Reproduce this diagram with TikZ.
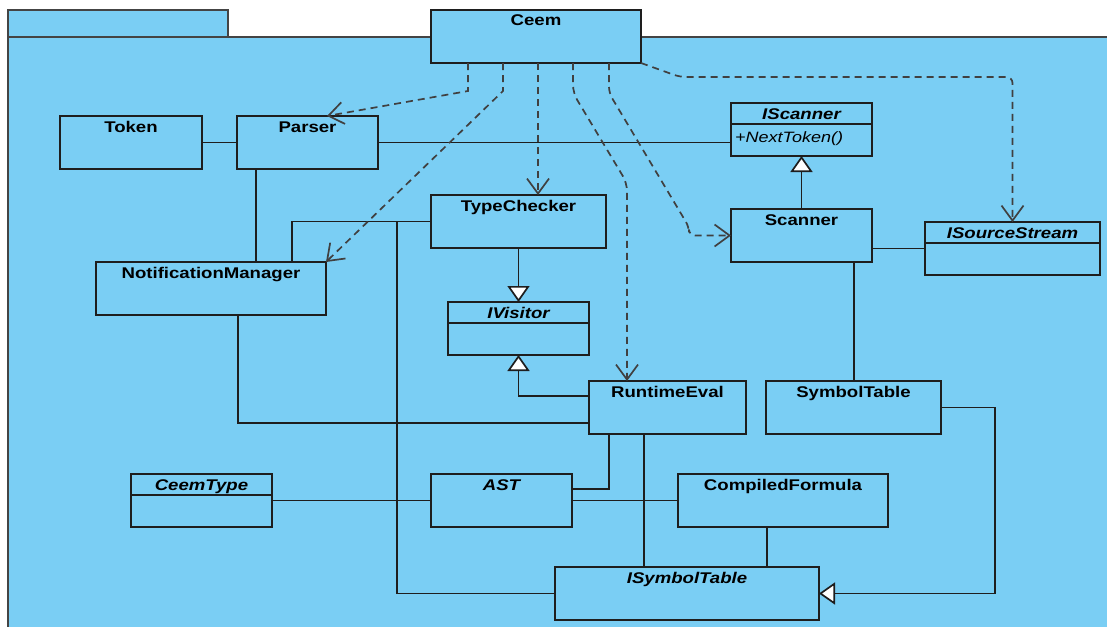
\documentclass[tikz,border=0pt]{standalone}
\usepackage{fontspec}
\newfontfamily\umlfont[FakeStretch=1.2]{Liberation Sans}
\usetikzlibrary{arrows.meta,calc}
\definecolor{pkgfill}{RGB}{122,206,244}
\definecolor{ink}{RGB}{30,30,30}
\definecolor{pkgline}{RGB}{68,68,68}
\begin{document}
\begin{tikzpicture}[x=1pt,y=-1pt,
  cls/.style={draw=ink, fill=pkgfill, line width=1.8pt, anchor=north west,
    outer sep=0pt, inner xsep=2pt, inner ysep=3pt, text height=13pt, text depth=34pt,
    font=\umlfont\fontsize{15.5}{18}\selectfont\bfseries, minimum width=#1},
  abstract/.style={font=\umlfont\fontsize{15.5}{18}\selectfont\bfseries\itshape},
  assoc/.style={draw=ink, line width=1.7pt},
  dep/.style={draw=ink!85, line width=1.7pt, dash pattern=on 7pt off 5pt,
    -{Straight Barb[length=15pt,width=22pt]}},
  gen/.style={draw=ink, line width=1.7pt, -{Triangle[length=16pt,width=22pt,fill=white]}},
]
\useasboundingbox (0,0) rectangle (1107,626);
\clip (0,0) rectangle (1107,626);
\fill[white] (0,0) rectangle (1107,626);

% package frame: tab and body
\draw[pkgline, fill=pkgfill, line width=2pt] (7.5,10) rectangle (228,37);
\draw[pkgline, fill=pkgfill, line width=2pt] (7.5,37) rectangle (1130,650);

% classes
\node[cls=210] (ceem) at (431,10) {Ceem};
\node[cls=142] (token) at (60,116) {Token};
\node[cls=141] (parser) at (237,116) {Parser};
\node[cls=141, abstract] (iscanner) at (731,103) {IScanner};
\node[cls=141] (scanner) at (731,209) {Scanner};
\node[cls=175, abstract] (isource) at (925,222) {ISourceStream};
\node[cls=175] (typechecker) at (431,195) {TypeChecker};
\node[cls=230] (nm) at (96,262) {NotificationManager};
\node[cls=141, abstract] (ivisitor) at (448,302) {IVisitor};
\node[cls=157] (runtime) at (589,381) {RuntimeEval};
\node[cls=175] (symboltable) at (766,381) {SymbolTable};
\node[cls=141, abstract] (ceemtype) at (131,474) {CeemType};
\node[cls=141, abstract] (ast) at (431,474) {AST};
\node[cls=210] (compiled) at (678,474) {CompiledFormula};
\node[cls=264, abstract] (isymbol) at (555,567) {ISymbolTable};

% compartment dividers
\foreach \c in {iscanner,isource,ivisitor,ceemtype}
  \draw[assoc] ([yshift=-21pt]\c.north west) -- ([yshift=-21pt]\c.north east);
\node[anchor=base west, inner sep=0pt, font=\umlfont\fontsize{15}{18}\selectfont\itshape]
  (nexttoken) at ([xshift=4pt,yshift=-39pt]iscanner.north west) {+NextToken()};

% attachment points on box borders
\coordinate (parserfoot) at ([xshift=19pt]parser.south west);
\coordinate (scannerfoot) at ([xshift=123pt]scanner.south west);
\coordinate (rtvis) at ([yshift=-15pt]runtime.north west);
\coordinate (nmtop) at ([xshift=196pt]nm.north west);
\coordinate (nmfoot) at ([xshift=142pt]nm.south west);
\coordinate (rtleft) at ([yshift=-42pt]runtime.north west);
\coordinate (astup) at ([yshift=-15pt]ast.north east);
\coordinate (rtfoot) at ([xshift=20pt]runtime.south west);
\coordinate (rtfoot2) at ([xshift=55pt]runtime.south west);
\coordinate (cffoot) at ([xshift=89pt]compiled.south west);
\coordinate (c1) at ([xshift=37pt]ceem.south west);
\coordinate (c2) at ([xshift=72pt]ceem.south west);
\coordinate (c3) at ([xshift=107pt]ceem.south west);
\coordinate (c4) at ([xshift=142pt]ceem.south west);
\coordinate (c5) at ([xshift=178pt]ceem.south west);

% associations
\draw[assoc] (token) -- (parser);
\draw[assoc] (parser.east) -- (parser.east -| iscanner.west);
\draw[assoc] (parserfoot) -- (parserfoot |- nm.north);
\draw[assoc] (isource.west -| scanner.east) -- (isource.west);
\draw[assoc] (scannerfoot) -- (scannerfoot |- symboltable.north);
\draw[assoc] (nmtop) |- (typechecker.west);
\draw[assoc] (typechecker.west) -- ++(-34,0) |- (isymbol.west);
\draw[assoc] (nmfoot) |- (rtleft);
\draw[assoc] (ceemtype) -- (ast);
\draw[assoc] (ast) -- (compiled);
\draw[assoc] (astup) -| (rtfoot);
\draw[assoc] (rtfoot2) -- (rtfoot2 |- isymbol.north);
\draw[assoc] (cffoot) -- (cffoot |- isymbol.north);

% generalizations
\draw[gen] (scanner.north) -- (iscanner.south);
\draw[gen] (typechecker.south) -- (ivisitor.north);
\draw[gen] (rtvis) -| (ivisitor.south);
\draw[gen] (symboltable.east) -- ++(54,0) |- (isymbol.east);

% dependencies from Ceem
\draw[dep] (c1) -- ++(0,28) -- ([xshift=90pt]parser.north west);
\draw[dep] (c2) -- ++(0,28) -- (nm.north east);
\draw[dep] (c3) -- (c3 |- typechecker.north);
\draw[dep, rounded corners=8pt] (c4) -- ++(0,30) -- ++(54,90) -- ([xshift=38pt]runtime.north west);
\draw[dep, rounded corners=6pt] (c5) -- ++(0,30) -- ++(80,134) |- (scanner.west);
\draw[dep, rounded corners=6pt] (ceem.south east) -- ++(39,14) -| (isource.north);
\end{tikzpicture}
\end{document}
